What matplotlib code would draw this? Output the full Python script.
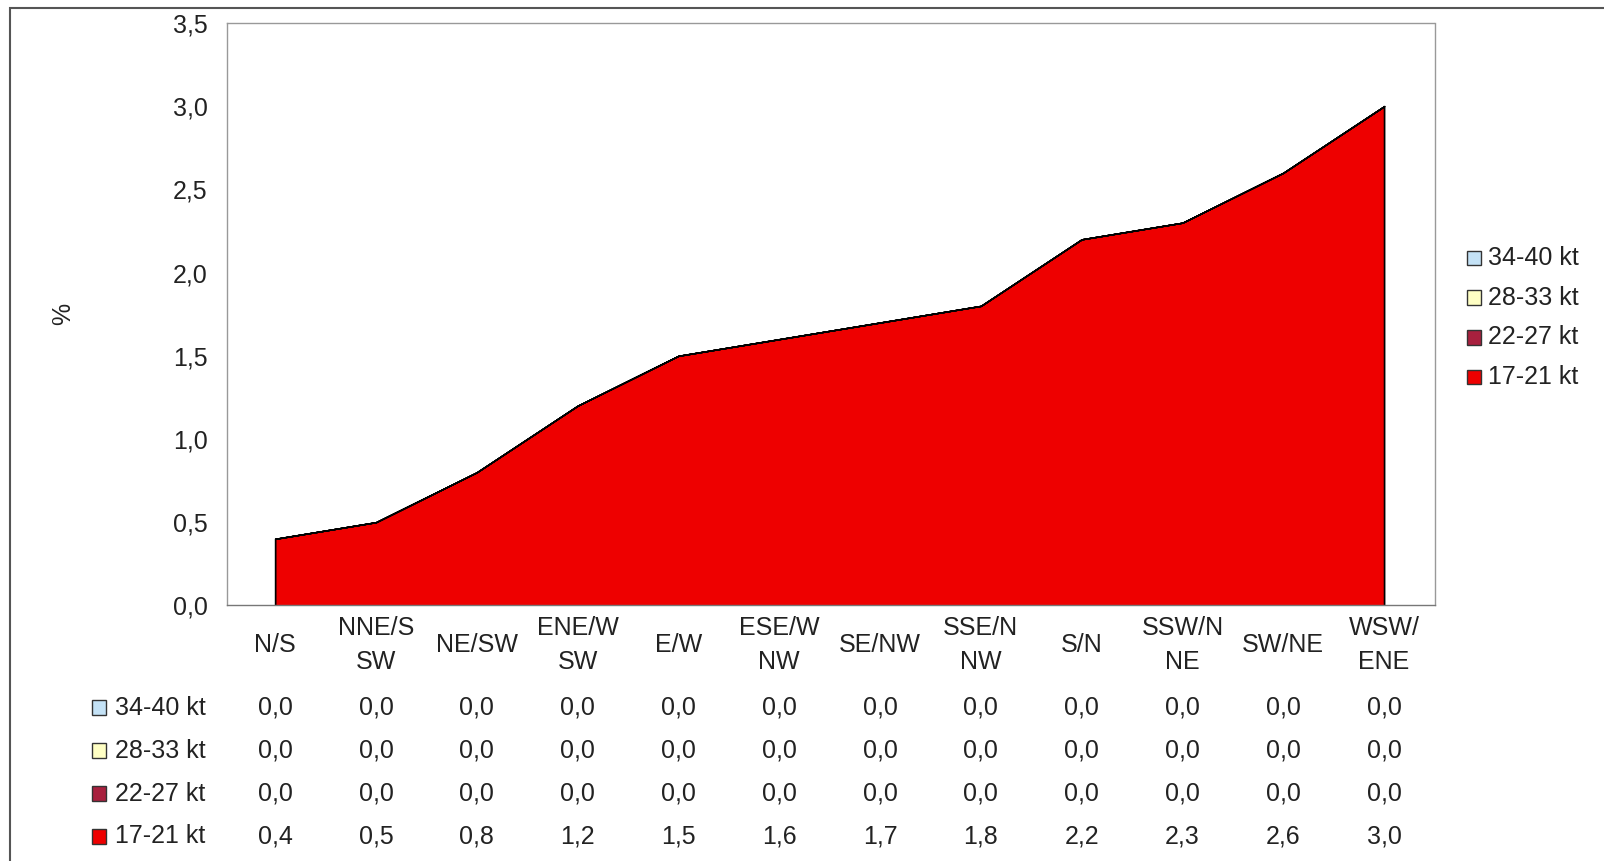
import matplotlib
matplotlib.use("Agg")
import matplotlib.pyplot as plt
from matplotlib.patches import Rectangle
import matplotlib.transforms as mtransforms

plt.rcParams['font.family'] = ['Liberation Sans', 'DejaVu Sans']

# --- data ---
categories = ['N/S', 'NNE/S\nSW', 'NE/SW', 'ENE/W\nSW', 'E/W', 'ESE/W\nNW', 'SE/NW',
              'SSE/N\nNW', 'S/N', 'SSW/N\nNE', 'SW/NE', 'WSW/\nENE']
v_17_21 = [0.4, 0.5, 0.8, 1.2, 1.5, 1.6, 1.7, 1.8, 2.2, 2.3, 2.6, 3.0]
v_22_27 = [0.0] * 12
v_28_33 = [0.0] * 12
v_34_40 = [0.0] * 12
series_names = ['17-21 kt', '22-27 kt', '28-33 kt', '34-40 kt']
series_vals = [v_17_21, v_22_27, v_28_33, v_34_40]
series_colors = ['#EE0000', '#A8203E', '#FFFFC4', '#C4E2F6']
y_ticks = [0.0, 0.5, 1.0, 1.5, 2.0, 2.5, 3.0, 3.5]

FS = 18
TXT = '#222222'

# layout measured on a 1568x842 view of the target
VW, VH = 1568, 842
fig = plt.figure(figsize=(16.04, 8.61), dpi=100)


def fx(px):
    return px / VW


def fy(py):
    return 1 - py / VH


ax = fig.add_axes([fx(222), fy(592), fx(1403) - fx(222), fy(22.5) - fy(592)])
x = list(range(len(categories)))

ax.stackplot(x, *series_vals, colors=series_colors, edgecolor='black', linewidth=1.0)
# vertical edges at both ends of the area
total = [sum(v) for v in zip(*series_vals)]
ax.plot([x[0], x[0]], [0, total[0]], color='black', lw=1.0)
ax.plot([x[-1], x[-1]], [0, total[-1]], color='black', lw=1.0)

ax.set_xlim(-0.477, 11.507)
ax.set_ylim(0, 3.5)
ax.set_yticks(y_ticks)
ax.set_yticklabels([f"{t:.1f}".replace('.', ',') for t in y_ticks], fontsize=FS, color=TXT)
ax.tick_params(axis='y', length=0, pad=14)
ax.set_xticks([])
for s in ax.spines.values():
    s.set_color('#999999')
    s.set_linewidth(1.0)
    s.set_linestyle((0, (2, 1)))
ax.spines['bottom'].set_linestyle('-')
ax.spines['bottom'].set_color('#777777')

fig.text(fx(62), fy(307), '%', rotation=90, ha='center', va='center', fontsize=FS, color=TXT)

# category labels and data table
trans = mtransforms.blended_transform_factory(ax.transData, fig.transFigure)
for i, c in enumerate(categories):
    ax.text(i, fy(631), c, transform=trans, ha='center', va='center', fontsize=FS,
            linespacing=1.5, color=TXT)


def key_box(px, py, color):
    fig.add_artist(Rectangle((fx(px), fy(py + 7)), fx(14), fy(py - 7) - fy(py + 7),
                             transform=fig.transFigure, facecolor=color,
                             edgecolor='#333333', lw=1.0))


row_y = [692, 734, 776, 818]
table_order = [3, 2, 1, 0]  # 34-40 on top
for ry, si in zip(row_y, table_order):
    key_box(90, ry, series_colors[si])
    fig.text(fx(112), fy(ry), series_names[si], ha='left', va='center', fontsize=FS, color=TXT)
    for i, v in enumerate(series_vals[si]):
        ax.text(i, fy(ry), f"{v:.1f}".replace('.', ','), transform=trans, ha='center',
                va='center', fontsize=FS, color=TXT)

# legend on the right
leg_y = [252, 291, 330, 369]
for ly, si in zip(leg_y, table_order):
    key_box(1434, ly, series_colors[si])
    fig.text(fx(1455), fy(ly), series_names[si], ha='left', va='center', fontsize=FS, color=TXT)

# outer frame
fig.add_artist(Rectangle((fx(10), fy(900)), fx(1700), fy(8) - fy(900),
                         transform=fig.transFigure, fill=False, edgecolor='#555555', lw=1.5))

fig.savefig('out.png', dpi=100)
